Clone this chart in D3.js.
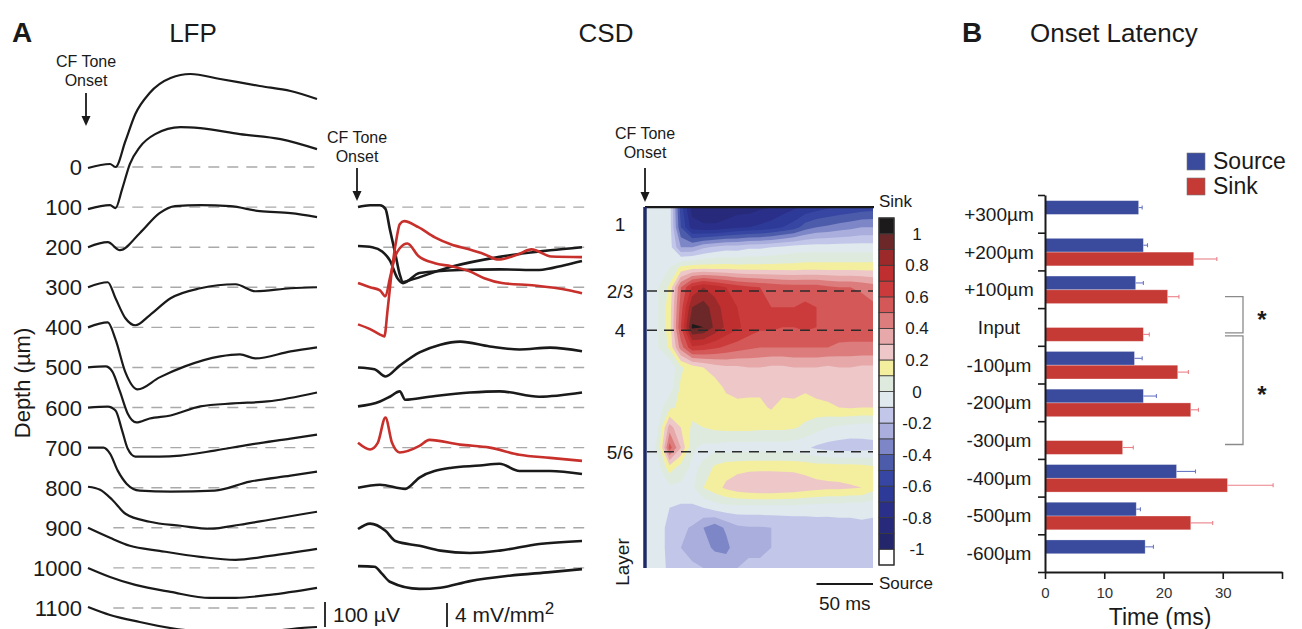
<!DOCTYPE html>
<html lang="en">
<head>
<meta charset="UTF-8">
<title>LFP / CSD / Onset Latency</title>
<style>
  body { margin: 0; overflow: hidden; background: #fff; }
  svg { display: block; font-family: "Liberation Sans", Arial, Helvetica, sans-serif; }
</style>
</head>
<body>
<script src="https://d3js.org/d3.v7.min.js"></script>
<script>
// ---------------- data ----------------
// LFP: one trace per depth, points are [time ms, µV relative to baseline]
const lfpDepths = [0, 100, 200, 300, 400, 500, 600, 700, 800, 900, 1000, 1100];
const lfpTraces = [
  [[0,-4],[20,12],[25,0],[34,104],[43,212],[56,296],[75,356],[93,372],[120,352],[156,324],[184,304],[208,272]],
  [[0,-8],[20,8],[25,-4],[31,72],[38,172],[47,240],[61,292],[84,320],[102,316],[138,292],[175,272],[208,232]],
  [[0,0],[18,20],[29,-12],[47,56],[65,136],[79,164],[102,168],[129,164],[156,144],[184,136],[208,120]],
  [[0,0],[18,20],[25,-44],[34,-124],[43,-152],[56,-112],[75,-44],[102,-4],[134,12],[152,-16],[184,-4],[208,0]],
  [[0,0],[18,20],[25,-48],[34,-180],[45,-248],[65,-200],[88,-156],[120,-116],[138,-108],[152,-124],[184,-96],[208,-80]],
  [[0,0],[16,4],[22,-16],[29,-96],[36,-184],[44,-220],[56,-204],[75,-192],[102,-156],[132,-144],[163,-136],[208,-100]],
  [[0,0],[18,4],[25,-12],[31,-92],[36,-164],[43,-196],[65,-196],[84,-192],[115,-172],[147,-148],[184,-124],[208,-108]],
  [[0,0],[14,0],[20,-24],[27,-92],[35,-144],[47,-172],[75,-176],[115,-172],[147,-136],[184,-112],[208,-96]],
  [[0,4],[11,-8],[22,-48],[34,-104],[56,-136],[84,-152],[111,-164],[138,-148],[165,-128],[208,-96]],
  [[0,0],[20,-40],[38,-72],[65,-92],[102,-116],[134,-128],[165,-112],[208,-84]],
  [[0,0],[20,-36],[43,-68],[75,-96],[111,-120],[134,-120],[165,-108],[208,-80]],
  [[0,4],[20,-28],[47,-56],[75,-80],[111,-96],[156,-96],[193,-80],[208,-76]]
];

// CSD traces: [time ms, mV/mm²]
const csdDepths = [100, 200, 300, 400, 500, 600, 700, 800, 900, 1000];
const csdRedDepths = [300, 400, 700];
const csdTraces = [
  [[0,0],[11,0.3],[20,0.3],[25,-0.3],[29,-3.7],[34,-7.8],[38,-11.2],[41,-12.5],[47,-12.2],[84,-10],[129,-8.3],[175,-7.2],[204,-6.7]],
  [[0,0.2],[13,0],[22,-0.7],[29,-2.2],[36,-5.2],[41,-6],[56,-4.3],[93,-3.8],[129,-3.7],[165,-3.8],[188,-3],[204,-2.3]],
  [[0,0.7],[11,0],[20,-0.5],[25,-1.5],[29,1.5],[34,5.2],[38,6.5],[45,7.3],[55,5.2],[70,4],[85,3.5],[101,2.7],[115,1.5],[131,0.7],[161,0.3],[192,-0.5],[204,-1]],
  [[0,0.5],[11,-0.3],[20,-1.2],[24,-1.5],[27,3],[31,9.7],[35,14.7],[38,17.2],[42,17.7],[55,16.7],[70,15],[85,13.8],[101,13],[115,12.2],[128,11.3],[146,12.2],[158,13],[176,11.8],[204,11.7]],
  [[0,0],[15,-0.3],[25,-1.5],[38,0.3],[56,2.5],[75,3.8],[93,4.3],[120,3.5],[147,3],[175,3.3],[204,2.7]],
  [[0,0.2],[20,1],[29,1.8],[38,2.7],[43,1.3],[65,1.8],[102,2.5],[129,2.7],[165,1.8],[204,2.5]],
  [[0,0.8],[11,-0.3],[18,0.8],[25,5],[31,0.8],[38,-0.8],[56,0.3],[65,1.3],[93,0.5],[120,0],[147,-1.2],[175,-1.7],[204,-2.2]],
  [[0,0],[20,0.5],[43,-0.2],[56,1.7],[84,3.3],[111,3.7],[129,4],[147,2.8],[175,2.8],[204,2.3]],
  [[0,-0.2],[11,0.7],[25,-0.5],[34,-2.2],[56,-3],[75,-3.8],[102,-4.2],[129,-3.8],[165,-2.7],[204,-2.2]],
  [[0,0.3],[15,0.2],[22,-1],[29,-2.3],[56,-3.5],[75,-3.3],[102,-2.2],[138,-1.3],[175,-0.7],[204,-0.2]]
];

// CSD heat map: rows = depth (µm), columns = time (ms), normalised CSD
const heatTimes = [0,10,20,30,40,50,60,70,80,90,100,110,120,130,140,150,160,170,180,190,200];
const heatDepths = [100,150,200,250,300,350,400,450,500,550,600,650,700,750,800,850,900,950,1000];
const heatValues = [
  [-0.05,-0.05,-0.05,-0.55,-0.85,-0.88,-0.88,-0.88,-0.85,-0.85,-0.82,-0.8,-0.76,-0.72,-0.68,-0.65,-0.62,-0.6,-0.58,-0.56,-0.55],
  [-0.05,-0.05,-0.05,-0.5,-0.75,-0.78,-0.78,-0.75,-0.72,-0.7,-0.68,-0.65,-0.6,-0.55,-0.45,-0.4,-0.38,-0.35,-0.33,-0.3,-0.3],
  [-0.05,-0.05,-0.05,-0.3,-0.3,-0.22,-0.18,-0.15,-0.15,-0.12,-0.12,-0.1,-0.08,-0.06,-0.05,-0.05,-0.05,-0.05,-0.05,-0.05,-0.05],
  [-0.05,-0.05,0.0,0.12,0.15,0.15,0.15,0.15,0.14,0.14,0.14,0.14,0.14,0.14,0.15,0.15,0.15,0.15,0.15,0.15,0.15],
  [-0.05,0.0,0.12,0.5,0.72,0.8,0.75,0.7,0.65,0.62,0.6,0.58,0.56,0.55,0.55,0.55,0.52,0.5,0.5,0.48,0.45],
  [-0.05,0.0,0.15,0.55,0.9,0.95,0.85,0.75,0.7,0.66,0.62,0.6,0.6,0.6,0.62,0.6,0.58,0.56,0.55,0.55,0.52],
  [-0.05,0.0,0.15,0.6,1.02,1.0,0.88,0.78,0.72,0.66,0.62,0.62,0.6,0.6,0.62,0.6,0.58,0.56,0.55,0.55,0.55],
  [-0.05,0.0,0.12,0.45,0.68,0.66,0.62,0.58,0.55,0.52,0.5,0.5,0.5,0.5,0.5,0.5,0.5,0.48,0.48,0.48,0.48],
  [-0.05,-0.05,-0.08,0.08,0.15,0.2,0.25,0.28,0.28,0.3,0.3,0.28,0.28,0.3,0.3,0.3,0.28,0.3,0.3,0.28,0.28],
  [-0.05,-0.05,-0.05,0.12,0.12,0.15,0.15,0.22,0.25,0.25,0.22,0.25,0.25,0.25,0.22,0.25,0.25,0.22,0.25,0.25,0.25],
  [-0.05,-0.05,0.08,0.12,0.14,0.15,0.15,0.15,0.16,0.15,0.18,0.21,0.15,0.16,0.15,0.16,0.18,0.2,0.21,0.2,0.2],
  [-0.05,0.0,0.35,0.2,0.08,0.1,0.12,0.13,0.13,0.13,0.12,0.12,0.12,0.11,0.08,0.04,0.0,-0.02,-0.04,-0.05,-0.05],
  [-0.05,0.02,0.55,0.3,0.02,-0.03,-0.03,-0.05,-0.05,-0.05,-0.05,-0.05,-0.05,-0.06,-0.08,-0.12,-0.14,-0.15,-0.15,-0.14,-0.13],
  [-0.05,-0.02,0.15,0.05,-0.02,0.02,0.12,0.16,0.17,0.18,0.18,0.18,0.18,0.18,0.17,0.16,0.16,0.15,0.15,0.14,0.12],
  [-0.05,-0.05,-0.02,-0.02,-0.02,0.1,0.16,0.22,0.26,0.28,0.29,0.29,0.28,0.27,0.25,0.23,0.22,0.22,0.21,0.2,0.14],
  [-0.05,-0.05,-0.1,-0.12,-0.12,-0.1,-0.06,-0.04,-0.04,-0.04,-0.04,-0.04,-0.04,-0.04,-0.05,-0.05,-0.06,-0.06,-0.07,-0.07,-0.08],
  [-0.05,-0.06,-0.13,-0.18,-0.21,-0.3,-0.36,-0.28,-0.22,-0.21,-0.21,-0.2,-0.19,-0.18,-0.17,-0.16,-0.15,-0.14,-0.13,-0.12,-0.12],
  [-0.05,-0.06,-0.13,-0.2,-0.22,-0.26,-0.32,-0.34,-0.22,-0.21,-0.21,-0.2,-0.19,-0.18,-0.17,-0.16,-0.15,-0.14,-0.13,-0.12,-0.12],
  [-0.05,-0.06,-0.12,-0.16,-0.19,-0.2,-0.21,-0.21,-0.2,-0.19,-0.19,-0.18,-0.17,-0.16,-0.15,-0.14,-0.13,-0.13,-0.12,-0.12,-0.12]
];
const layerLabels = ["1", "2/3", "4", "5/6"];
const layerDepths = [143, 309, 407, 710];
const colorbarTicks = [1, 0.8, 0.6, 0.4, 0.2, 0, -0.2, -0.4, -0.6, -0.8, -1];
const bandEdges = [-1.1,-1,-0.9,-0.8,-0.7,-0.6,-0.5,-0.4,-0.3,-0.2,-0.1,0,0.1,0.2,0.3,0.4,0.5,0.6,0.7,0.8,0.9,1,1.1];

// Onset latency (ms), mean and error
const latencyCats = ["+300µm","+200µm","+100µm","Input","-100µm","-200µm","-300µm","-400µm","-500µm","-600µm"];
const sourceMean = [15.8, 16.6, 15.3, null, 15.1, 16.6, null, 22.2, 15.4, 16.9];
const sourceErr  = [0.6, 0.7, 1.3, null, 1.3, 2.2, null, 3.2, 0.7, 1.4];
const sinkMean   = [null, 25.1, 20.7, 16.6, 22.4, 24.6, 13.1, 30.8, 24.6, null];
const sinkErr    = [null, 3.9, 1.9, 1.0, 1.8, 1.3, 1.8, 7.7, 3.7, null];
const latencyTicks = [0, 10, 20, 30, 40];

// ---------------- drawing ----------------
const W = 1302, H = 629;
const svg = d3.select("body").append("svg").attr("width", W).attr("height", H);
svg.append("rect").attr("width", W).attr("height", H).attr("fill", "#fff");

const ink = "#1a1a1a";
const red = "#c8302c";

// panel titles
svg.append("text").attr("x", 12).attr("y", 42).attr("font-size", 28).attr("font-weight", "bold").attr("fill", ink).text("A");
svg.append("text").attr("x", 193).attr("y", 42).attr("text-anchor", "middle").attr("font-size", 26).attr("fill", ink).text("LFP");
svg.append("text").attr("x", 606).attr("y", 42).attr("text-anchor", "middle").attr("font-size", 26).attr("fill", ink).text("CSD");
svg.append("text").attr("x", 962).attr("y", 42).attr("font-size", 28).attr("font-weight", "bold").attr("fill", ink).text("B");
svg.append("text").attr("x", 1030).attr("y", 42).attr("font-size", 26).attr("fill", ink).text("Onset Latency");

// shared depth scale
const yDepth = d3.scaleLinear().domain([0, 1100]).range([167, 608]);

function onsetMarker(cx, textY, y1, y2) {
  const g = svg.append("g").attr("fill", ink);
  g.append("text").attr("x", cx).attr("y", textY).attr("text-anchor", "middle").attr("font-size", 16).text("CF Tone");
  g.append("text").attr("x", cx).attr("y", textY + 19).attr("text-anchor", "middle").attr("font-size", 16).text("Onset");
  g.append("line").attr("x1", cx).attr("x2", cx).attr("y1", y1).attr("y2", y2 - 8)
    .attr("stroke", ink).attr("stroke-width", 1.8);
  g.append("path").attr("d", `M${cx - 4.5},${y2 - 10}L${cx + 4.5},${y2 - 10}L${cx},${y2}Z`);
}

// ---- LFP ----
const xLfp = d3.scaleLinear().domain([0, 208]).range([88, 317]);
const uV = d3.scaleLinear().domain([0, 100]).range([0, -25]);

svg.append("g").selectAll("line").data(lfpDepths).join("line")
  .attr("x1", xLfp(23)).attr("x2", xLfp(207))
  .attr("y1", d => yDepth(d)).attr("y2", d => yDepth(d))
  .attr("stroke", "#a9a9a9").attr("stroke-width", 1.4).attr("stroke-dasharray", "11,8");

svg.append("g").selectAll("text").data(lfpDepths).join("text")
  .attr("x", 82).attr("y", d => yDepth(d) + 8)
  .attr("text-anchor", "end").attr("font-size", 22).attr("fill", ink)
  .text(d => d);

svg.append("g").selectAll("path").data(lfpTraces).join("path")
  .attr("d", (tr, i) => d3.line()
    .x(d => xLfp(d[0]))
    .y(d => yDepth(lfpDepths[i]) + uV(d[1]))
    .curve(d3.curveMonotoneX)(tr))
  .attr("fill", "none").attr("stroke", ink).attr("stroke-width", 2.2).attr("stroke-linejoin", "round");

svg.append("text").attr("transform", "translate(30,383) rotate(-90)")
  .attr("text-anchor", "middle").attr("font-size", 22).attr("fill", ink).text("Depth (µm)");

onsetMarker(86, 67, 93, 126);

// 100 µV scale bar
svg.append("line").attr("x1", 325).attr("x2", 325).attr("y1", 627).attr("y2", 627 + uV(100))
  .attr("stroke", ink).attr("stroke-width", 1.8);
svg.append("text").attr("x", 333).attr("y", 622).attr("font-size", 21).attr("fill", ink).text("100 µV");

// ---- CSD traces ----
const xCsd = d3.scaleLinear().domain([0, 204]).range([358, 582]);
const csdUnit = d3.scaleLinear().domain([0, 4]).range([0, -24]);

svg.append("g").selectAll("line").data(csdDepths).join("line")
  .attr("x1", xCsd(23)).attr("x2", xCsd(206))
  .attr("y1", d => yDepth(d)).attr("y2", d => yDepth(d))
  .attr("stroke", "#a9a9a9").attr("stroke-width", 1.4).attr("stroke-dasharray", "11,8");

svg.append("g").selectAll("path").data(csdTraces).join("path")
  .attr("d", (tr, i) => d3.line()
    .x(d => xCsd(d[0]))
    .y(d => yDepth(csdDepths[i]) + csdUnit(d[1]))
    .curve(d3.curveMonotoneX)(tr))
  .attr("fill", "none")
  .attr("stroke", (tr, i) => csdRedDepths.includes(csdDepths[i]) ? red : ink)
  .attr("stroke-width", 2.6).attr("stroke-linejoin", "round");

onsetMarker(357, 143, 168, 201);

svg.append("line").attr("x1", 447).attr("x2", 447).attr("y1", 627).attr("y2", 627 + csdUnit(4))
  .attr("stroke", ink).attr("stroke-width", 1.8);
const unitTxt = svg.append("text").attr("x", 455).attr("y", 622).attr("font-size", 21).attr("fill", ink);
unitTxt.append("tspan").text("4 mV/mm");
unitTxt.append("tspan").attr("dy", -8).attr("font-size", 17).text("2");

// ---- CSD heat map ----
const bandColors = [
  "#ffffff", "#23266a", "#272a7a", "#2a2f8a", "#2e3a98", "#3646a2", "#4c5caa", "#7d86c6", "#a9aedc", "#c2c6e8",
  "#dfe9ee", "#dfeadf", "#f3ef9e", "#eec8c8", "#e6a8a8", "#dc7c7c", "#d45858", "#cb3b3b", "#c02f2f", "#9c2a2a",
  "#6c2828", "#1c1a1a"
];
const xHeat = d3.scaleLinear().domain([0, 200]).range([647, 873]);
const nx = heatTimes.length, ny = heatDepths.length;
const tStep = heatTimes[1] - heatTimes[0], dStep = heatDepths[1] - heatDepths[0];

const defs = svg.append("defs");
defs.append("clipPath").attr("id", "heatClip").append("rect")
  .attr("x", xHeat(0)).attr("y", yDepth(100))
  .attr("width", xHeat(200) - xHeat(0)).attr("height", yDepth(1000) - yDepth(100));

const contours = d3.contours().size([nx, ny]).thresholds(bandEdges.slice(0, -1))(heatValues.flat());
const heatPath = d3.geoPath(d3.geoTransform({
  point(x, y) {
    this.stream.point(xHeat(heatTimes[0] + (x - 0.5) * tStep), yDepth(heatDepths[0] + (y - 0.5) * dStep));
  }
}));
svg.append("g").attr("clip-path", "url(#heatClip)").selectAll("path").data(contours).join("path")
  .attr("d", heatPath)
  .attr("fill", (d, i) => bandColors[i]);

// heat map frame and layer boundaries
svg.append("line").attr("x1", xHeat(0) - 2).attr("x2", xHeat(200) + 1)
  .attr("y1", yDepth(100)).attr("y2", yDepth(100)).attr("stroke", ink).attr("stroke-width", 2.2);
svg.append("line").attr("x1", xHeat(0) - 2).attr("x2", xHeat(0) - 2)
  .attr("y1", yDepth(100)).attr("y2", yDepth(1000)).attr("stroke", "#1e2a66").attr("stroke-width", 3.5);

svg.append("g").selectAll("line").data(layerDepths.slice(1)).join("line")
  .attr("x1", xHeat(0)).attr("x2", xHeat(200))
  .attr("y1", d => yDepth(d)).attr("y2", d => yDepth(d))
  .attr("stroke", "#2a2a2a").attr("stroke-width", 1.5).attr("stroke-dasharray", "10,7");

svg.append("g").selectAll("text").data(layerLabels).join("text")
  .attr("x", 620).attr("y", (d, i) => yDepth(layerDepths[i]) + 7)
  .attr("text-anchor", "middle").attr("font-size", 19).attr("fill", ink).text(d => d);
svg.append("text").attr("transform", "translate(629,562) rotate(-90)")
  .attr("text-anchor", "middle").attr("font-size", 19).attr("fill", ink).text("Layer");

onsetMarker(645, 139, 168, 202);

// 50 ms scale bar
svg.append("line").attr("x1", xHeat(150)).attr("x2", xHeat(200)).attr("y1", 584).attr("y2", 584)
  .attr("stroke", ink).attr("stroke-width", 2.2);
svg.append("text").attr("x", (xHeat(150) + xHeat(200)) / 2).attr("y", 610)
  .attr("text-anchor", "middle").attr("font-size", 19).attr("fill", ink).text("50 ms");

// colour bar
const yBar = d3.scaleLinear().domain([-1.1, 1.1]).range([565, 218]);
const cb = svg.append("g");
cb.selectAll("rect").data(bandColors).join("rect")
  .attr("x", 879).attr("width", 15)
  .attr("y", (d, i) => yBar(bandEdges[i + 1]))
  .attr("height", (d, i) => yBar(bandEdges[i]) - yBar(bandEdges[i + 1]))
  .attr("fill", d => d).attr("stroke", "#3a3a3a").attr("stroke-width", 0.8);
cb.append("rect").attr("x", 879).attr("width", 15).attr("y", yBar(1.1)).attr("height", yBar(-1.1) - yBar(1.1))
  .attr("fill", "none").attr("stroke", "#333").attr("stroke-width", 1.3);
cb.selectAll("text.tick").data(colorbarTicks).join("text").attr("class", "tick")
  .attr("x", 917).attr("y", d => yBar(d) + 6)
  .attr("text-anchor", "middle").attr("font-size", 17).attr("fill", ink).text(d => d);
cb.append("text").attr("x", 879).attr("y", 207).attr("font-size", 17).attr("fill", ink).text("Sink");
cb.append("text").attr("x", 879).attr("y", 589).attr("font-size", 17).attr("fill", ink).text("Source");

// ---- B: onset latency ----
const blue = "#3a4a9c", sinkRed = "#c63a35";
const xLat = d3.scaleLinear().domain([0, 40]).range([1045, 1282]);
const yCat = d3.scaleBand().domain(latencyCats).range([195, 572]);
const ySub = d3.scaleBand().domain(["Source", "Sink"]).range([yCat.bandwidth() * 0.15, yCat.bandwidth() * 0.88]);

const barRows = [];
latencyCats.forEach((c, i) => {
  if (sourceMean[i] != null) barRows.push({ cat: c, key: "Source", mean: sourceMean[i], err: sourceErr[i] });
  if (sinkMean[i] != null) barRows.push({ cat: c, key: "Sink", mean: sinkMean[i], err: sinkErr[i] });
});
const fillOf = k => k === "Source" ? blue : sinkRed;
const errOf = k => k === "Source" ? "#6b78c4" : "#ea8088";

const gB = svg.append("g");
gB.selectAll("rect.bar").data(barRows).join("rect").attr("class", "bar")
  .attr("x", xLat(0)).attr("y", d => yCat(d.cat) + ySub(d.key))
  .attr("width", d => xLat(d.mean) - xLat(0)).attr("height", ySub.bandwidth())
  .attr("fill", d => fillOf(d.key)).attr("stroke", "#fff").attr("stroke-opacity", 0.35).attr("stroke-width", 0.8);
const yMid = d => yCat(d.cat) + ySub(d.key) + ySub.bandwidth() / 2;
gB.selectAll("line.err").data(barRows).join("line").attr("class", "err")
  .attr("x1", d => xLat(d.mean)).attr("x2", d => xLat(d.mean + d.err))
  .attr("y1", yMid).attr("y2", yMid)
  .attr("stroke", d => errOf(d.key)).attr("stroke-width", 1.1);
gB.selectAll("line.cap").data(barRows).join("line").attr("class", "cap")
  .attr("x1", d => xLat(d.mean + d.err)).attr("x2", d => xLat(d.mean + d.err))
  .attr("y1", d => yMid(d) - 2).attr("y2", d => yMid(d) + 2)
  .attr("stroke", d => errOf(d.key)).attr("stroke-width", 1.1);

// axes
const gx = svg.append("g").attr("transform", `translate(0,${yCat.range()[1]})`)
  .call(d3.axisBottom(xLat).tickValues(latencyTicks).tickFormat(d => d < 40 ? d : "").tickSize(7).tickSizeOuter(0));
gx.select(".domain").attr("stroke", ink).attr("stroke-width", 2);
gx.selectAll(".tick line").attr("stroke", ink).attr("stroke-width", 1.6);
gx.selectAll(".tick text").attr("font-size", 15).attr("font-family", "Liberation Sans, Arial, sans-serif")
  .attr("fill", "#333").attr("dy", "1.05em");

const yEdge = d3.scaleLinear().domain([0, latencyCats.length]).range(yCat.range());
const gy = svg.append("g").attr("transform", `translate(${xLat(0)},0)`)
  .call(d3.axisLeft(yEdge).ticks(latencyCats.length).tickFormat("").tickSize(7).tickSizeOuter(0));
gy.select(".domain").attr("stroke", ink).attr("stroke-width", 2);
gy.selectAll(".tick line").attr("stroke", ink).attr("stroke-width", 1.6);

gB.selectAll("text.cat").data(latencyCats).join("text").attr("class", "cat")
  .attr("x", 999).attr("y", d => yCat(d) + yCat.bandwidth() / 2 + 7)
  .attr("text-anchor", "middle").attr("font-size", 19).attr("fill", ink).text(d => d);

svg.append("text").attr("x", 1160).attr("y", 625).attr("text-anchor", "middle")
  .attr("font-size", 23).attr("fill", ink).text("Time (ms)");

// legend
const leg = svg.append("g").attr("transform", "translate(1187,153)");
["Source", "Sink"].forEach((k, i) => {
  leg.append("rect").attr("x", 0).attr("y", i * 25).attr("width", 18).attr("height", 17)
    .attr("fill", fillOf(k)).attr("stroke", "#777").attr("stroke-width", 0.6);
  leg.append("text").attr("x", 26).attr("y", i * 25 + 16).attr("font-size", 23).attr("fill", ink).text(k);
});

// significance brackets
const sinkMid = c => yMid({ cat: c, key: "Sink" });
const brackets = [
  [sinkMid("+100µm"), sinkMid("Input") - 1.5],
  [sinkMid("Input") + 1.5, sinkMid("-300µm") - 3]
];
brackets.forEach(([y1, y2]) => {
  svg.append("path").attr("d", `M1225,${y1}H1243V${y2}H1225`)
    .attr("fill", "none").attr("stroke", "#8a8a8a").attr("stroke-width", 1.3);
  svg.append("text").attr("x", 1262).attr("y", (y1 + y2) / 2 + 13).attr("text-anchor", "middle")
    .attr("font-size", 24).attr("font-weight", "bold").attr("fill", ink).text("*");
});
</script>
</body>
</html>
